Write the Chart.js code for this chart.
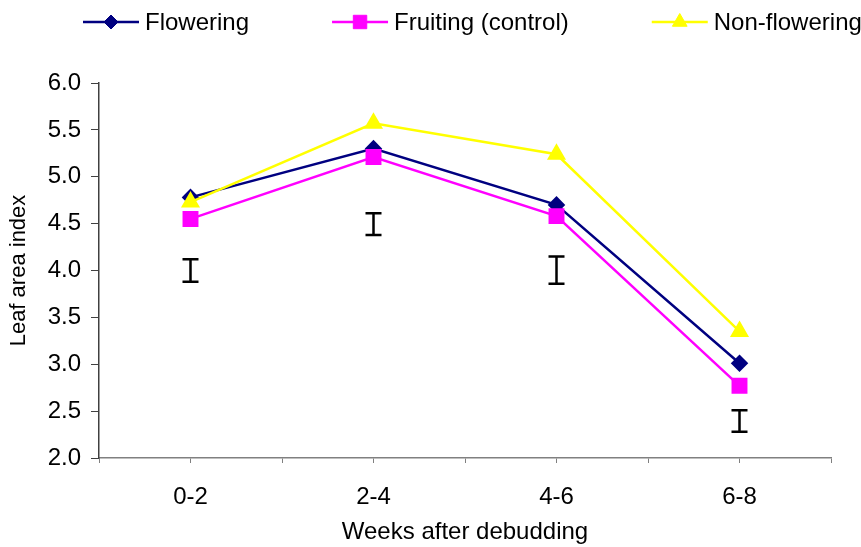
<!DOCTYPE html>
<html>
<head>
<meta charset="utf-8">
<script src="https://cdn.jsdelivr.net/npm/chart.js@4/dist/chart.umd.min.js"></script>
<style>
  html, body { margin: 0; padding: 0; background: #fff; }
  #wrap { width: 861px; height: 547px; }
</style>
</head>
<body>
<div id="wrap"><canvas id="myChart" width="861" height="547"></canvas></div>
<script>
// Data
var categories = ["0-2", "2-4", "4-6", "6-8"];
var flowering = [4.78, 5.30, 4.70, 3.01];
var fruiting = [4.55, 5.21, 4.58, 2.77];
var nonFlowering = [4.73, 5.57, 5.24, 3.35];
// LSD bars drawn under each group
var barTop = [4.12, 4.61, 4.15, 2.51];
var barBottom = [3.88, 4.38, 3.86, 2.28];

var FONT = "'Liberation Sans', Arial, sans-serif";

// categories sit at the odd positions of a 0..8 axis (ticks every half group)
function toPoints(values) {
  return values.map(function (v, i) { return { x: 2 * i + 1, y: v }; });
}

// Draws the LSD "I" bars through the chart scales
var lsdBars = {
  id: "lsdBars",
  afterDatasetsDraw: function (chart) {
    var ctx = chart.ctx;
    var xs = chart.scales.x, ys = chart.scales.y;
    ctx.save();
    ctx.strokeStyle = "#000";
    ctx.lineWidth = 2.5;
    categories.forEach(function (c, i) {
      var x = xs.getPixelForValue(2 * i + 1);
      var y1 = ys.getPixelForValue(barTop[i]);
      var y2 = ys.getPixelForValue(barBottom[i]);
      ctx.beginPath();
      ctx.moveTo(x, y1); ctx.lineTo(x, y2);
      ctx.moveTo(x - 8, y1); ctx.lineTo(x + 8, y1);
      ctx.moveTo(x - 8, y2); ctx.lineTo(x + 8, y2);
      ctx.stroke();
    });
    ctx.restore();
  }
};

// Excel-style legend: line sample with marker, then the label
var lineLegend = {
  id: "lineLegend",
  afterDraw: function (chart) {
    var ctx = chart.ctx;
    var x = 83, y = 22;
    ctx.save();
    ctx.font = "24px " + FONT;
    ctx.textBaseline = "middle";
    chart.data.datasets.forEach(function (ds) {
      ctx.strokeStyle = ds.borderColor;
      ctx.lineWidth = 2.5;
      ctx.beginPath();
      ctx.moveTo(x, y); ctx.lineTo(x + 56, y);
      ctx.stroke();
      ctx.fillStyle = ds.pointBackgroundColor;
      ctx.strokeStyle = ds.pointBorderColor;
      ctx.lineWidth = 1;
      Chart.helpers.drawPoint(ctx, { pointStyle: ds.pointStyle, radius: ds.pointRadius, rotation: 0, borderWidth: 1 }, x + 28, y);
      ctx.fillStyle = "#000";
      ctx.fillText(ds.label, x + 62, y + 1);
      x += 62 + ctx.measureText(ds.label).width + 83;
    });
    ctx.restore();
  }
};

var ctx = document.getElementById("myChart").getContext("2d");

var myChart = new Chart(ctx, {
  type: "line",
  data: {
    datasets: [
      {
        label: "Flowering",
        data: toPoints(flowering),
        borderColor: "#000080",
        pointBackgroundColor: "#000080",
        pointBorderColor: "#000080",
        pointStyle: "rectRot",
        pointRadius: 7,
        borderWidth: 2.5,
        order: 3
      },
      {
        label: "Fruiting (control)",
        data: toPoints(fruiting),
        borderColor: "#ff00ff",
        pointBackgroundColor: "#ff00ff",
        pointBorderColor: "#ff00ff",
        pointStyle: "rect",
        pointRadius: 9.5,
        borderWidth: 2.5,
        order: 2
      },
      {
        label: "Non-flowering",
        data: toPoints(nonFlowering),
        borderColor: "#ffff00",
        pointBackgroundColor: "#ffff00",
        pointBorderColor: "#ffff00",
        pointStyle: "triangle",
        pointRadius: 8.5,
        borderWidth: 2.5,
        order: 1
      }
    ]
  },
  options: {
    responsive: false,
    animation: false,
    layout: { padding: { top: 83, right: 30, left: 0, bottom: 0 } },
    plugins: {
      legend: { display: false },
      tooltip: { enabled: false }
    },
    scales: {
      x: {
        type: "linear",
        min: 0,
        max: 8,
        afterFit: function (scale) { scale.height = 89; },
        ticks: {
          stepSize: 1,
          autoSkip: false,
          maxRotation: 0,
          padding: 20,
          color: "#000",
          font: { family: FONT, size: 24 },
          callback: function (v) { return v % 2 === 1 ? categories[(v - 1) / 2] : ""; }
        },
        grid: { drawOnChartArea: false, tickLength: 5, color: "#808080", lineWidth: 1 },
        border: { color: "#808080", width: 1.5 },
        title: {
          display: true,
          text: "Weeks after debudding",
          color: "#000",
          font: { family: FONT, size: 24 },
          padding: { top: 0, bottom: 0 }
        }
      },
      y: {
        min: 2,
        max: 6,
        afterFit: function (scale) { scale.width = 99; },
        ticks: {
          stepSize: 0.5,
          padding: 10,
          color: "#000",
          font: { family: FONT, size: 24 },
          callback: function (v) { return v.toFixed(1); }
        },
        grid: { drawOnChartArea: false, tickLength: 8, color: "#404040", lineWidth: 1 },
        border: { color: "#404040", width: 1.5 },
        title: {
          display: true,
          text: "Leaf area index",
          color: "#000",
          font: { family: FONT, size: 22 },
          padding: { top: 6, bottom: 0 }
        }
      }
    }
  },
  plugins: [lsdBars, lineLegend]
});
</script>
</body>
</html>
